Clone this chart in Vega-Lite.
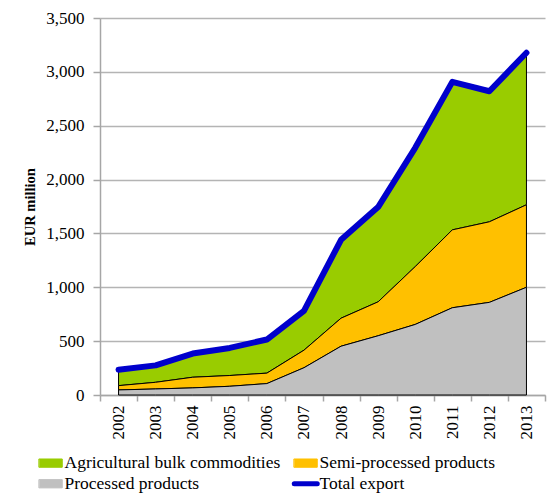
{
  "$schema": "https://vega.github.io/schema/vega-lite/v6.json",
  "autosize": {"type": "none"},
  "padding": {"left": 100, "top": 18, "right": 3, "bottom": 102},
  "width": 445,
  "height": 377,
  "config": {
    "font": "Liberation Serif",
    "view": {"stroke": null},
    "axis": {"labelFont": "Liberation Serif", "titleFont": "Liberation Serif", "labelColor": "black", "titleColor": "black"},
    "legend": {"labelFont": "Liberation Serif", "labelColor": "black"}
  },
  "datasets": {
    "parts": [
      {"year": "2002", "series": "Agricultural bulk commodities", "value": 148},
      {"year": "2002", "series": "Semi-processed products", "value": 40},
      {"year": "2002", "series": "Processed products", "value": 47},
      {"year": "2003", "series": "Agricultural bulk commodities", "value": 157},
      {"year": "2003", "series": "Semi-processed products", "value": 62},
      {"year": "2003", "series": "Processed products", "value": 56},
      {"year": "2004", "series": "Agricultural bulk commodities", "value": 220},
      {"year": "2004", "series": "Semi-processed products", "value": 99},
      {"year": "2004", "series": "Processed products", "value": 66},
      {"year": "2005", "series": "Agricultural bulk commodities", "value": 256},
      {"year": "2005", "series": "Semi-processed products", "value": 100},
      {"year": "2005", "series": "Processed products", "value": 81},
      {"year": "2006", "series": "Agricultural bulk commodities", "value": 312},
      {"year": "2006", "series": "Semi-processed products", "value": 97},
      {"year": "2006", "series": "Processed products", "value": 106},
      {"year": "2007", "series": "Agricultural bulk commodities", "value": 364},
      {"year": "2007", "series": "Semi-processed products", "value": 163},
      {"year": "2007", "series": "Processed products", "value": 253},
      {"year": "2008", "series": "Agricultural bulk commodities", "value": 728},
      {"year": "2008", "series": "Semi-processed products", "value": 260},
      {"year": "2008", "series": "Processed products", "value": 453},
      {"year": "2009", "series": "Agricultural bulk commodities", "value": 880},
      {"year": "2009", "series": "Semi-processed products", "value": 315},
      {"year": "2009", "series": "Processed products", "value": 550},
      {"year": "2010", "series": "Agricultural bulk commodities", "value": 1103},
      {"year": "2010", "series": "Semi-processed products", "value": 537},
      {"year": "2010", "series": "Processed products", "value": 655},
      {"year": "2011", "series": "Agricultural bulk commodities", "value": 1374},
      {"year": "2011", "series": "Semi-processed products", "value": 723},
      {"year": "2011", "series": "Processed products", "value": 810},
      {"year": "2012", "series": "Agricultural bulk commodities", "value": 1212},
      {"year": "2012", "series": "Semi-processed products", "value": 748},
      {"year": "2012", "series": "Processed products", "value": 860},
      {"year": "2013", "series": "Agricultural bulk commodities", "value": 1411},
      {"year": "2013", "series": "Semi-processed products", "value": 766},
      {"year": "2013", "series": "Processed products", "value": 1000}
    ],
    "total": [
      {"year": "2002", "series": "Total export", "value": 235},
      {"year": "2003", "series": "Total export", "value": 275},
      {"year": "2004", "series": "Total export", "value": 385},
      {"year": "2005", "series": "Total export", "value": 437},
      {"year": "2006", "series": "Total export", "value": 515},
      {"year": "2007", "series": "Total export", "value": 780},
      {"year": "2008", "series": "Total export", "value": 1441},
      {"year": "2009", "series": "Total export", "value": 1745},
      {"year": "2010", "series": "Total export", "value": 2295},
      {"year": "2011", "series": "Total export", "value": 2907},
      {"year": "2012", "series": "Total export", "value": 2820},
      {"year": "2013", "series": "Total export", "value": 3177}
    ]
  },
  "encoding": {
    "x": {
      "field": "year", "type": "ordinal",
      "scale": {"type": "band", "paddingInner": 0, "paddingOuter": 0},
      "bandPosition": 0.5,
      "axis": {
        "title": null, "labelAngle": 270, "labelFontSize": 17, "labelFont": "Liberation Serif", "tickBand": "extent",
        "domainColor": "#a6a6a6", "tickColor": "#a6a6a6", "tickSize": 6, "labelPadding": 4,
        "domainWidth": 1.5, "tickWidth": 1.5
      }
    },
    "color": {
      "field": "series", "type": "nominal",
      "sort": ["Agricultural bulk commodities", "Semi-processed products", "Processed products", "Total export"],
      "scale": {
        "domain": ["Agricultural bulk commodities", "Semi-processed products", "Processed products", "Total export"],
        "range": ["#99cc00", "#ffc000", "#c0c0c0", "#0000cc"]
      },
      "legend": {
        "title": null, "orient": "none", "legendX": -58, "legendY": 436, "columns": 2, "direction": "horizontal",
        "labelFont": "Liberation Serif", "labelFontSize": 17.5, "labelLimit": 400, "symbolSize": 529, "columnPadding": 3, "rowPadding": 1, "labelOffset": 5,
        "encode": {
          "symbols": {
            "update": {
              "shape": {"signal": "datum.value === 'Total export' ? 'M-1,0H1' : 'M-1,-0.36H1V0.36H-1Z'"},
              "stroke": {"signal": "datum.value === 'Total export' ? '#0000cc' : 'black'"},
              "strokeWidth": {"signal": "datum.value === 'Total export' ? 5 : 1"},
              "fill": {"signal": "datum.value === 'Total export' ? 'transparent' : scale('color', datum.value)"},
              "strokeCap": {"value": "round"},
              "opacity": {"value": 1},
              "fillOpacity": {"value": 1},
              "strokeOpacity": {"value": 1}
            }
          }
        }
      }
    }
  },
  "layer": [
    {
      "data": {"name": "parts"},
      "transform": [
        {"calculate": "indexof(['Processed products', 'Semi-processed products', 'Agricultural bulk commodities'], datum.series)", "as": "stackOrder"}
      ],
      "mark": {"type": "area", "stroke": "black", "strokeWidth": 1, "opacity": 1, "fillOpacity": 1},
      "encoding": {
        "order": {"field": "stackOrder", "type": "quantitative", "sort": "ascending"},
        "y": {
          "field": "value", "type": "quantitative", "stack": "zero",
          "scale": {"domain": [0, 3500], "nice": false},
          "axis": {
            "title": "EUR million", "titleFont": "Liberation Serif", "titleFontSize": 14.5, "titleFontWeight": "bold", "titlePadding": 8,
            "values": [0, 500, 1000, 1500, 2000, 2500, 3000, 3500], "format": ",d",
            "labelFont": "Liberation Serif", "labelFontSize": 17, "grid": true, "gridColor": "#b4b4b4", "gridWidth": 1.5,
            "domainColor": "#a6a6a6", "domainWidth": 1.5, "tickColor": "#a6a6a6", "tickWidth": 1.5, "tickSize": 7, "labelPadding": 9
          }
        }
      }
    },
    {
      "data": {"name": "total"},
      "mark": {"type": "line", "strokeWidth": 6, "strokeCap": "round", "strokeJoin": "round"},
      "encoding": {
        "y": {"field": "value", "type": "quantitative"}
      }
    }
  ]
}
